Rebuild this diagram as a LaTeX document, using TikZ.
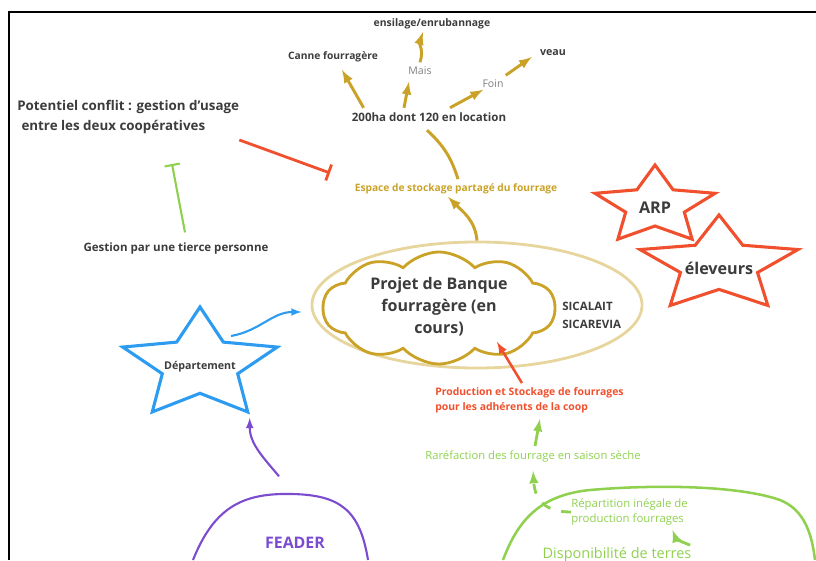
\documentclass[tikz,border=0pt]{standalone}
\usepackage{fontspec}
\setmainfont{Open Sans}
\usetikzlibrary{shapes.geometric,shapes.symbols,arrows.meta,calc}
\definecolor{darktext}{HTML}{3C3C3C}
\definecolor{goldc}{HTML}{C9A227}
\definecolor{goldlt}{HTML}{E6D59C}
\definecolor{redc}{HTML}{F0502D}
\definecolor{greenc}{HTML}{8FD14F}
\definecolor{bluec}{HTML}{2D9CF0}
\definecolor{purplec}{HTML}{7B4CCF}
\definecolor{grayc}{HTML}{808080}

\begin{document}
\begin{tikzpicture}[x=0.025cm,y=0.025cm,
  lbl/.style={inner sep=0pt,text=darktext,font=\bfseries\fontsize{8.2}{10}\selectfont},
  small/.style={inner sep=0pt,text=grayc,font=\fontsize{7.5}{9}\selectfont},
  goldarrow/.style={goldc,line width=2.1pt,-latex},
  starshape/.style={draw=#1,line width=2.2pt,star,star points=5,star point ratio=2.05,inner sep=0pt,transform shape},
  ]
  \useasboundingbox (0,0) rectangle (816,560);
  \draw[line width=1.6pt] (9,0) -- (9,548) -- (816,548);

  % uses of the plots
  \node[lbl,font=\bfseries\fontsize{7.4}{9}\selectfont] (ensil) at (432,536) {ensilage/enrubannage};
  \node[lbl,font=\bfseries\fontsize{7.3}{9}\selectfont] (canne) at (333,503) {Canne fourragère};
  \node[small] (mais) at (420,489) {Mais};
  \node[lbl,font=\bfseries\fontsize{7.6}{9}\selectfont] (veau) at (553,507) {veau};
  \node[small] (foin) at (493,476) {Foin};
  \node[lbl] (ha) at (429,443) {200ha dont 120 en location};
  \node[lbl,text=goldc,font=\bfseries\fontsize{7.25}{9}\selectfont] (esp) at (456,371) {Espace de stockage partagé du fourrage};

  \draw[goldarrow] ($(ha.north west)+(12,4.5)$) -- ($(canne.south)+(9,-7.5)$);
  \draw[goldarrow] ($(ha.north)+(-25,4.5)$) -- ($(mais.south)+(-11,-6.5)$);
  \draw[goldarrow] ($(mais.north)+(0,4.5)$) .. controls (424,510) and (419,516) .. ($(ensil.south)+(-9,-2.5)$);
  \draw[goldarrow] ($(ha.north)+(21,4.5)$) -- ($(foin.south west)+(1,-1.5)$);
  \draw[goldarrow] ($(foin.north east)+(2,4.5)$) -- ($(veau.west)+(-8,-4)$);
  \draw[goldc,line width=2.1pt] ($(esp.north)+(2,4.5)$) to[bend right=15] ($(ha.south)+(-2,-8.5)$);

  % conflict
  \node[lbl,anchor=west,align=left,font=\bfseries\fontsize{9.5}{14.2}\selectfont] (conf) at (17,443)
    {Potentiel conflit : gestion d'usage\\\hspace{3pt}entre les deux coopératives};
  \node[lbl] (gest) at (176,311) {Gestion par une tierce personne};
  \coordinate (confend) at (330,387);
  \coordinate (gestend) at (172,396);
  \draw[redc,line width=2pt,-{Bar[width=12pt]}] ($(conf.south east)+(0,-6)$) -- (confend);
  \draw[greenc,line width=1.5pt,-{Bar[width=11pt]}] ($(gest.north)+(9,10.5)$) -- (gestend);

  % the project
  \node[ellipse,draw=goldlt,line width=2pt,minimum width=8.25cm,minimum height=3.15cm] (coop) at (477,255) {};
  \node[cloud,draw=goldc,line width=2pt,cloud puffs=10,cloud puff arc=95,cloud ignores aspect,
    minimum width=5.8cm,minimum height=2.8cm] (proj) at (439,252) {};
  \node[lbl,align=center,font=\bfseries\fontsize{11.4}{15.6}\selectfont] (projlab) at (439,253)
    {Projet de Banque\\fourragère (en\\cours)};
  \node[lbl,anchor=west,align=left,font=\bfseries\fontsize{8.2}{12.8}\selectfont] (sica) at (562,245) {SICALAIT\\SICAREVIA};
  \draw[goldarrow] (coop.north) to[out=95,in=-45] ($(esp.south)+(-8,-2.5)$);

  % actors
  \node[starshape=redc,minimum size=2.05cm,xscale=1.54] (arp) at (655,354) {};
  \node[lbl,font=\bfseries\fontsize{11.5}{13}\selectfont] (arplab) at (655,352) {ARP};
  \node[starshape=redc,minimum size=2.5cm,xscale=1.66] (elev) at (719,295) {};
  \node[lbl,font=\bfseries\fontsize{11.5}{13}\selectfont] (elevlab) at (719,292) {éleveurs};
  \node[starshape=bluec,minimum size=2.9cm,xscale=1.4] (dep) at (200,195) {};
  \node[lbl,font=\bfseries\fontsize{7.6}{9}\selectfont] (deplab) at (200,193) {Département};
  \draw[bluec,line width=1.5pt,-latex] ($(dep)+(31,29)$) to[out=10,in=180] ($(coop.west)+(-9,-7)$);

  % FEADER
  \draw[purplec,line width=1.5pt] (193,0) .. controls (215,55) and (245,67) .. (292,66)
    .. controls (340,65) and (360,50) .. (368,0);
  \node[inner sep=0pt,anchor=base,text=purplec,font=\bfseries\fontsize{11.3}{13}\selectfont] (feader) at (295,12) {FEADER};
  \draw[purplec,line width=1.5pt,-latex] ($(feader)+(-16,66)$) to[out=130,in=-90] ($(dep.outer point 4)+(-1,-3)$);

  % forage production
  \node[lbl,anchor=west,align=left,text=redc,font=\bfseries\fontsize{7.4}{10.6}\selectfont] (prod) at (435,160)
    {Production et Stockage de fourrages\\pour les adhérents de la coop};
  \draw[redc,line width=1.8pt,-latex] ($(prod.north)+(-7.5,4)$) -- ($(projlab)+(58,-35)$);
  \node[inner sep=0pt,text=greenc,font=\fontsize{8}{9}\selectfont] (raref) at (533,103) {Raréfaction des fourrage en saison sèche};
  \draw[greenc,line width=2pt,-latex] ($(raref.north)+(2,5)$) -- ($(prod.south)+(10.5,-6)$);

  \draw[greenc,line width=1.8pt] (503,0) .. controls (518,40) and (540,65) .. (590,70)
    .. controls (660,76) and (740,74) .. (780,60) .. controls (805,50) and (812,25) .. (815,0);
  \node[inner sep=0pt,anchor=west,align=left,text=greenc,font=\fontsize{8.1}{11.3}\selectfont] (repart) at (571,48)
    {Répartition inégale de\\production fourrages};
  \node[inner sep=0pt,anchor=base,text=greenc,font=\fontsize{10.3}{12}\selectfont] (dispo) at (617,2) {Disponibilité de terres};
  \draw[greenc,line width=2pt,dash pattern=on 7pt off 8pt,-latex] (repart.west) .. controls (545,48) and (535,60) .. ($(raref.south)+(0,-8)$);
  \draw[greenc,line width=2pt,-latex] ($(dispo.north east)+(-1.5,1.5)$) to[out=160,in=-70] ($(repart.south)+(43,-4)$);
\end{tikzpicture}
\end{document}
